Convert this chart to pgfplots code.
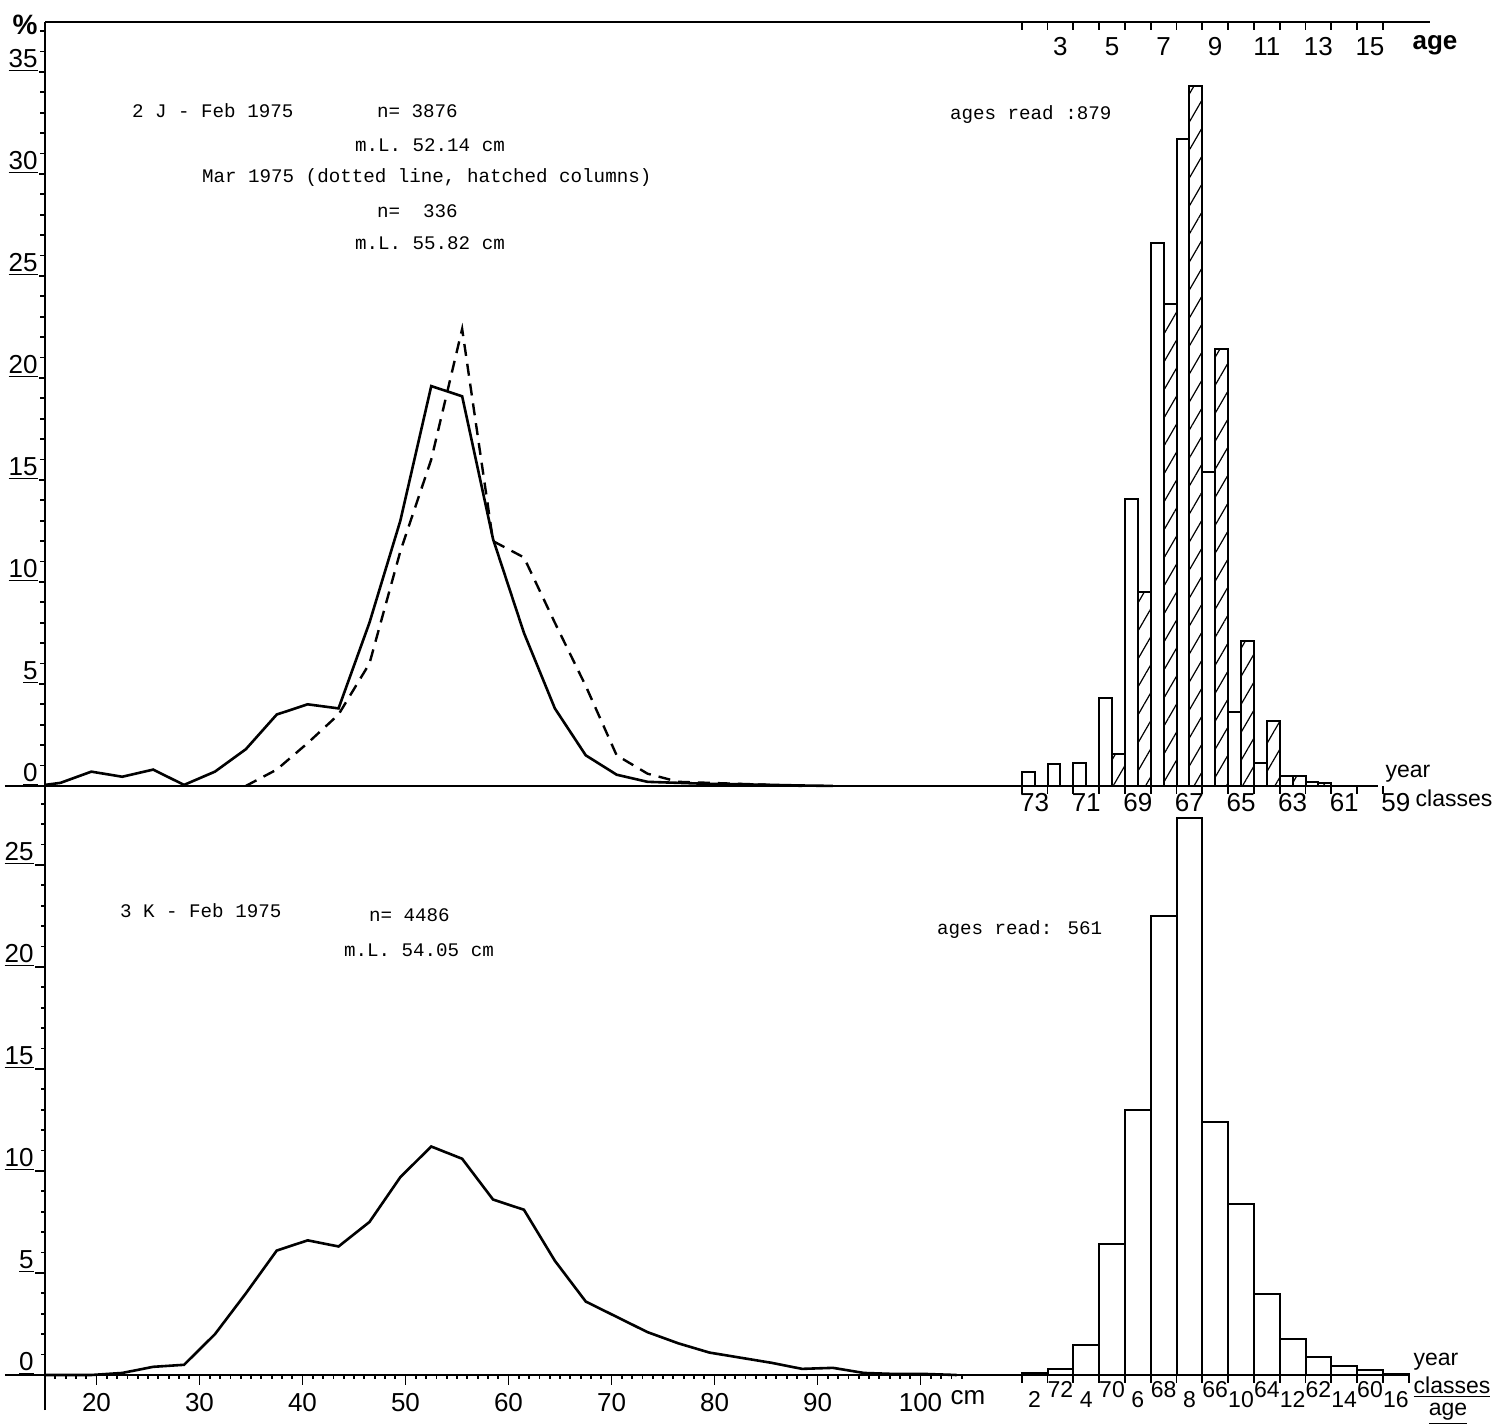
\documentclass[border=0pt]{standalone}
\usepackage{fontspec}
\setmainfont{Liberation Sans}
\newfontfamily\mono{Liberation Mono}
\usepackage{pgfplots}
\pgfplotsset{compat=1.18}
\usetikzlibrary{patterns.meta}
\newcommand\tickfont{\fontsize{13}{13}\selectfont}
\newcommand\smtickfont{\fontsize{11.5}{11.5}\selectfont}
\newcommand\txt{\mono\fontsize{9.6}{11}\selectfont}
\pgfplotsset{
  lenax/.style={x=5.15pt, y=10.2pt, anchor=south west, clip=false,
    axis y line*=left, axis x line*=middle,
    axis line style={line width=1.3pt},
    every tick/.style={black, line width=0.9pt},
    tick align=outside,
    major tick length=3pt, minor tick length=2.5pt,
    yticklabel style={anchor=south east, inner xsep=0.5pt, inner ysep=0pt, font=\tickfont},
    xticklabel style={font=\tickfont, text height=9.5pt, text depth=0pt},
  },
  histax/.style={x=12.9pt, y=10.2pt, anchor=south west, clip=false,
    axis y line=none, axis x line*=middle, x axis line style={draw=none},
    every tick/.style={black, line width=0.9pt}, tick align=outside,
    major tick length=0pt, minor tick length=4pt,
    xticklabel style={font=\tickfont, text height=9.5pt, text depth=0pt}, ytick=\empty},
}
\begin{document}
\begin{tikzpicture}
\useasboundingbox (0,0) rectangle (747.5pt,713pt);
% ---------------- top panel: length distribution
\begin{axis}[lenax, at={(22.5pt,313pt)}, xmin=15, xmax=144.4, ymin=-0.69, ymax=37.45,
  ytick={0,5,...,35},
  yticklabels={\underline{0},\underline{5},\underline{10},\underline{15},\underline{20},\underline{25},\underline{30},\underline{35}},
  minor ytick={1,...,37}, xtick=\empty]
\addplot[line width=1.3pt] coordinates {(15,0.05) (16.5,0.15) (19.5,0.7) (22.5,0.45) (25.5,0.8) (28.5,0.05) (31.5,0.7) (34.5,1.8) (37.5,3.5) (40.5,4.0) (43.5,3.8) (46.5,8.0) (49.5,13.0) (52.5,19.6) (55.5,19.1) (58.5,12.1) (61.5,7.5) (64.5,3.8) (67.5,1.5) (70.5,0.55) (73.5,0.2) (76.5,0.15) (79.5,0.1) (82.5,0.08) (85.5,0.05) (88.5,0.02) (91.5,0)};
\addplot[line width=1.2pt, dash pattern=on 6pt off 4pt] coordinates {(34.5,0) (37.5,0.8) (40.5,2.1) (43.5,3.5) (46.5,6.0) (49.5,11.5) (52.5,16.0) (55.5,22.4) (58.5,12.0) (61.5,11.2) (64.5,8.0) (67.5,4.9) (70.5,1.5) (73.5,0.6) (76.5,0.2) (79.5,0.15) (82.5,0.1) (85.5,0.05) (88.5,0)};
\draw[line width=1.3pt] (axis cs:11.1,0) -- (axis cs:15,0);
\end{axis}
% ---------------- top panel: age histogram
\begin{axis}[histax, at={(504.4pt,313pt)}, xmin=1, xmax=16.3, ymin=-0.69, ymax=37.45,
  xtick={2,4,...,16}, xticklabels={73,71,69,67,65,63,61,59},
  minor xtick={1.5,2.5,...,15.5}]
\addplot[ybar, bar width=0.5, bar shift=-0.25, draw=black, line width=1pt, fill=white] coordinates {(2,0.68) (3,1.07) (4,1.14) (5,4.3) (6,14.05) (7,26.6) (8,31.7) (9,15.4) (10,3.6) (11,1.14) (12,0.5) (13,0.2)};
\addplot[ybar, bar width=0.5, bar shift=0.25, draw=black, line width=1pt, fill=white,
  postaction={pattern={Lines[angle=60,distance=7pt,line width=0.6pt]}}] coordinates {(5,1.55) (6,9.5) (7,23.6) (8,34.3) (9,21.4) (10,7.1) (11,3.2) (12,0.5) (13,0.15)};
\end{axis}
% ---------------- top age axis
\begin{axis}[x=12.9pt, y=10.2pt, anchor=south west, at={(22.5pt,313pt)}, clip=false,
  xmin=-36.356, xmax=17.326, ymin=-0.69, ymax=37.45,
  axis x line*=top, axis y line=none, axis line style={line width=1.3pt},
  every tick/.style={black, line width=0.9pt}, tick align=inside,
  xtick={3,5,...,15}, xticklabels={3,5,7,9,11,13,15},
  major tick length=0pt, minor xtick={1.5,2.5,...,15.5}, minor tick length=4pt,
  xticklabel style={font=\tickfont, anchor=north, yshift=-4pt, text height=9.5pt, text depth=0pt}, ytick=\empty]
\addplot[draw=none] coordinates {(3,1)};
\end{axis}
% ---------------- bottom panel: length distribution
\begin{axis}[lenax, at={(22.5pt,8pt)}, xmin=15, xmax=147.5, ymin=-1.716, ymax=28.19,
  ytick={0,5,...,25},
  yticklabels={\underline{0},\underline{5},\underline{10},\underline{15},\underline{20},\underline{25}},
  minor ytick={1,...,28},
  xtick={20,30,...,100}, xticklabels={20,30,40,50,60,70,80,90,100},
  minor xtick={16,...,104}, major tick length=5pt, minor tick length=2pt]
\addplot[line width=1.3pt] coordinates {(15,0) (19.5,0) (22.5,0.1) (25.5,0.4) (28.5,0.5) (31.5,2.0) (34.5,4.0) (37.5,6.1) (40.5,6.6) (43.5,6.3) (46.5,7.5) (49.5,9.7) (52.5,11.2) (55.5,10.6) (58.5,8.6) (61.5,8.1) (64.5,5.6) (67.5,3.6) (70.5,2.85) (73.5,2.1) (76.5,1.55) (79.5,1.1) (82.5,0.85) (85.5,0.6) (88.5,0.3) (91.5,0.35) (94.5,0.1) (97.5,0.05) (100.5,0.05) (103.5,0)};
\draw[line width=1.3pt] (axis cs:11.1,0) -- (axis cs:15,0);
\end{axis}
% ---------------- bottom panel: age histogram
\begin{axis}[histax, at={(504.4pt,8pt)}, xmin=1, xmax=16.6, ymin=-1.716, ymax=28.19,
  xtick={2,3,...,16},
  xticklabels={2,\raisebox{5pt}{72},4,\raisebox{5pt}{70},6,\raisebox{5pt}{68},8,\raisebox{5pt}{66},10,\raisebox{5pt}{64},12,\raisebox{5pt}{62},14,\raisebox{5pt}{60},16},
  xticklabel style={font=\smtickfont, inner xsep=0pt, text height=8.5pt, yshift=-4pt},
  minor xtick={1.5,2.5,...,16.5}]
\addplot[ybar, bar width=1, draw=black, line width=1pt, fill=white] coordinates {(2,0.1) (3,0.3) (4,1.47) (5,6.4) (6,13.0) (7,22.5) (8,27.3) (9,12.4) (10,8.4) (11,3.95) (12,1.76) (13,0.88) (14,0.45) (15,0.23) (16,0.06)};
\end{axis}
% ---------------- texts
\node[font=\bfseries\fontsize{14}{14}\selectfont] at (12.5pt,700.5pt) {\%};
\node[font=\bfseries\tickfont] at (717.5pt,690.5pt) {age};
\node[font=\smtickfont] at (704pt,326pt) {year};
\node[font=\smtickfont] at (727pt,314pt) {classes};
\node[font=\smtickfont] at (718pt,32pt) {year};
\node[font=\smtickfont] at (726pt,19.5pt) {\underline{classes}};
\node[font=\smtickfont] at (724pt,6pt) {\underline{age}};
\node[font=\tickfont] at (484pt,14pt) {cm};
\node[font=\txt, anchor=west] at (62.5pt,657.5pt) {2 J - Feb 1975};
\node[font=\txt, anchor=west] at (185pt,657.5pt) {n= 3876};
\node[font=\txt, anchor=west] at (174pt,640.5pt) {m.L. 52.14 cm};
\node[font=\txt, anchor=west] at (97.5pt,624pt) {Mar 1975 (dotted line, hatched columns)};
\node[font=\txt, anchor=west] at (185pt,607.5pt) {n=\ \ 336};
\node[font=\txt, anchor=west] at (174pt,591.5pt) {m.L. 55.82 cm};
\node[font=\txt, anchor=west] at (471.5pt,655.5pt) {ages read :879};
\node[font=\txt, anchor=west] at (56.5pt,257.5pt) {3 K - Feb 1975};
\node[font=\txt, anchor=west] at (181pt,255.5pt) {n= 4486};
\node[font=\txt, anchor=west] at (168.5pt,238pt) {m.L. 54.05 cm};
\node[font=\txt, anchor=west] at (465pt,248pt) {ages read: 561};
\end{tikzpicture}
\end{document}
